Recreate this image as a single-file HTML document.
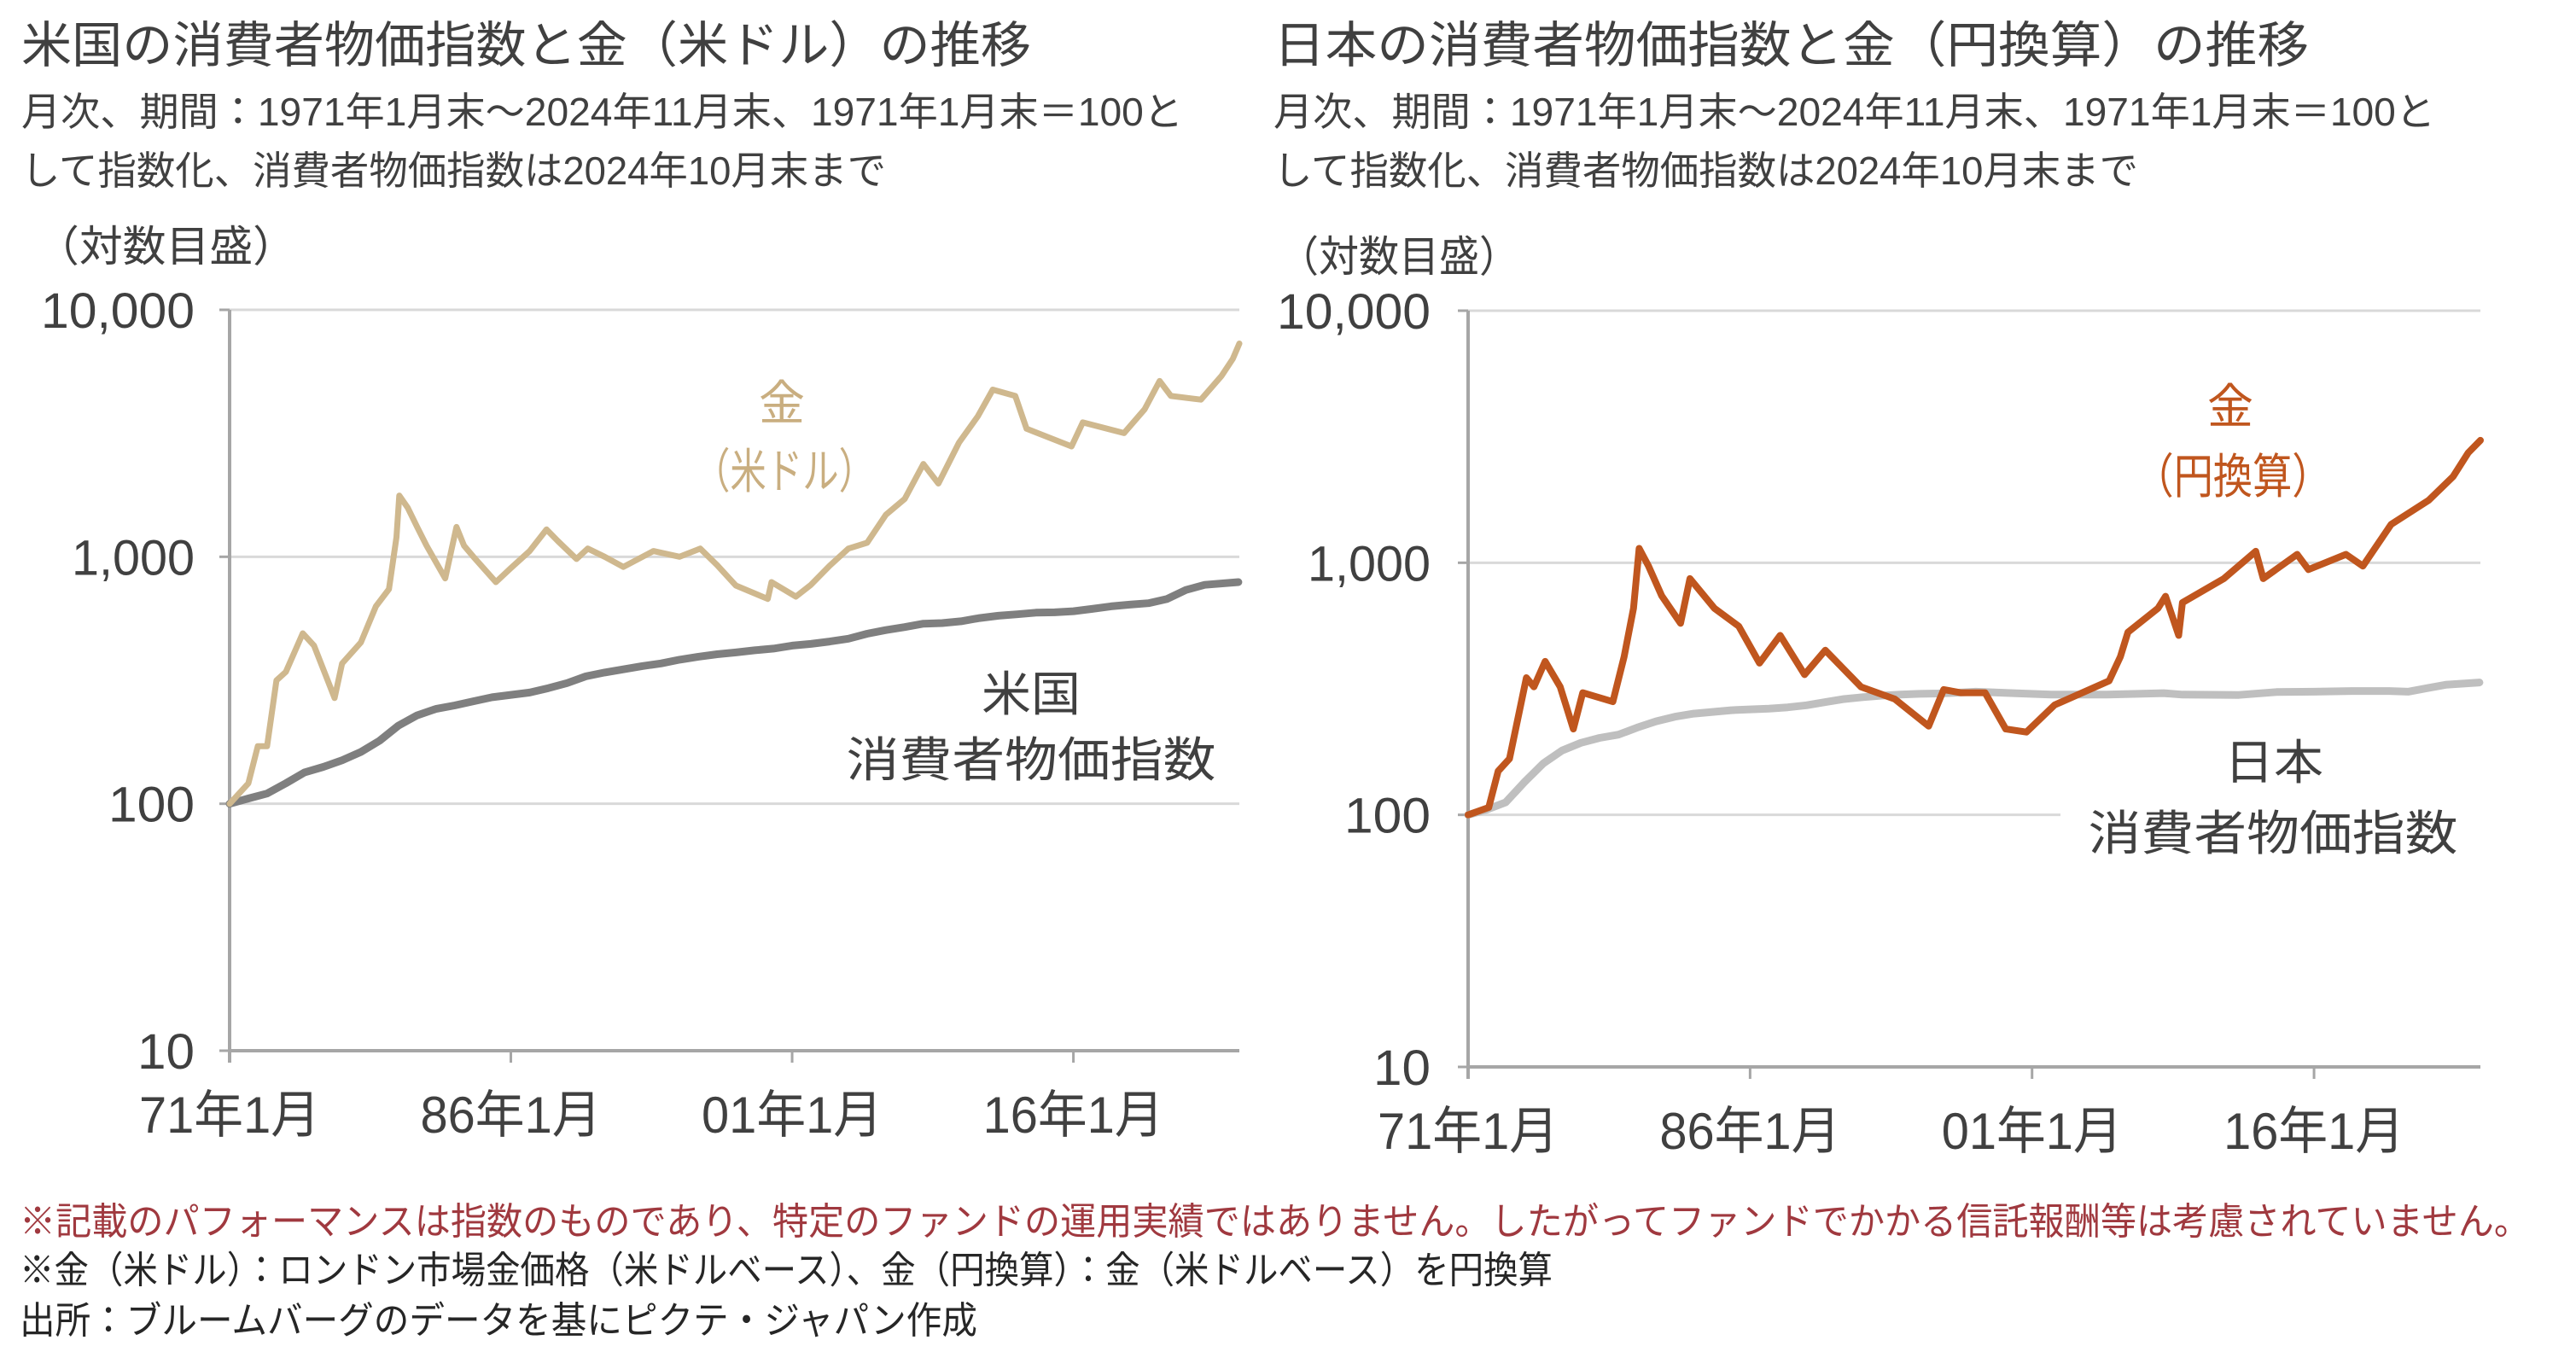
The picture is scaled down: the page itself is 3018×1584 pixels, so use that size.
<!DOCTYPE html>
<html><head><meta charset="utf-8">
<style>
html,body{margin:0;padding:0;background:#fff;}
svg{display:block;font-family:"Liberation Sans","Noto Sans CJK JP",sans-serif;}
</style></head>
<body>
<svg id="root" width="3018" height="1584" viewBox="0 0 3018 1584" xmlns="http://www.w3.org/2000/svg">
<rect width="3018" height="1584" fill="#fff"/>
<g fill="#404040">
<text x="25" y="73" font-size="58" textLength="1183" lengthAdjust="spacingAndGlyphs">米国の消費者物価指数と金（米ドル）の推移</text>
<text x="25" y="147" font-size="46" textLength="1361" lengthAdjust="spacingAndGlyphs">月次、期間：1971年1月末～2024年11月末、1971年1月末＝100と</text>
<text x="25" y="216" font-size="46" textLength="1013" lengthAdjust="spacingAndGlyphs">して指数化、消費者物価指数は2024年10月末まで</text>
<text x="1492" y="73" font-size="58" textLength="1213" lengthAdjust="spacingAndGlyphs">日本の消費者物価指数と金（円換算）の推移</text>
<text x="1492" y="147" font-size="46" textLength="1361" lengthAdjust="spacingAndGlyphs">月次、期間：1971年1月末～2024年11月末、1971年1月末＝100と</text>
<text x="1492" y="216" font-size="46" textLength="1013" lengthAdjust="spacingAndGlyphs">して指数化、消費者物価指数は2024年10月末まで</text>
<text x="42" y="306" font-size="50" textLength="305" lengthAdjust="spacingAndGlyphs">（対数目盛）</text>
<text x="1498" y="318" font-size="50" textLength="282" lengthAdjust="spacingAndGlyphs">（対数目盛）</text>
</g>
<g id="left"></g>
<g id="right"></g>
<text x="23" y="1446" font-size="44" fill="#a0393f" textLength="2941" lengthAdjust="spacingAndGlyphs">※記載のパフォーマンスは指数のものであり、特定のファンドの運用実績ではありません。したがってファンドでかかる信託報酬等は考慮されていません。</text>
<text x="23" y="1503" font-size="44" fill="#262626" textLength="1796" lengthAdjust="spacingAndGlyphs">※金（米ドル）：ロンドン市場金価格（米ドルベース）、金（円換算）：金（米ドルベース）を円換算</text>
<text x="23" y="1562" font-size="44" fill="#262626" textLength="1122" lengthAdjust="spacingAndGlyphs">出所：ブルームバーグのデータを基にピクテ・ジャパン作成</text>
</svg>
<script>
const yTicks = [10, 100, 1000, 10000];
const yTickLabels = ["10", "100", "1,000", "10,000"];
const xTickYears = [1971, 1986, 2001, 2016];
const xTickLabels = ["71年1月", "86年1月", "01年1月", "16年1月"];

const usGoldDates = [1971,1972,1972.5,1973,1973.5,1974,1974.9,1975.5,1976.6,1977,1978,1978.8,1979.5,1979.9,1980.05,1980.5,1981,1981.5,1982.5,1983.1,1983.5,1984,1985.2,1986,1987,1987.9,1988.5,1989.5,1990.1,1991,1992,1993.6,1995,1996.1,1997,1998,1999.7,1999.9,2001.2,2002,2003,2004,2005,2006,2007,2008,2008.8,2009.9,2010.9,2011.7,2012.9,2013.5,2015.9,2016.5,2018.7,2019.8,2020.6,2021.2,2022.8,2023.9,2024.5,2024.85];
const usGoldValues = [100,121,171,171,316,342,490,437,268,370,450,630,740,1200,1770,1580,1320,1110,818,1320,1110,1000,790,900,1055,1290,1160,980,1080,1000,910,1055,1000,1080,925,765,675,790,690,770,920,1080,1140,1480,1715,2375,1980,2900,3700,4750,4480,3300,2800,3500,3170,3960,5150,4480,4330,5400,6330,7300];

const usCpiDates = [1971,1972,1973,1974,1975,1976,1977,1978,1979,1980,1981,1982,1983,1984,1985,1987,1988,1989,1990,1991,1992,1993,1994,1995,1996,1997,1998,1999,2000,2001,2002,2003,2004,2005,2006,2007,2008,2009,2010,2011,2012,2013,2014,2015,2016,2017,2018,2019,2020,2021,2022,2023,2024.8];
const usCpiValues = [100,105,110,121,134,141,150,162,180,207,228,242,250,260,270,282,294,308,328,340,350,361,370,383,394,403,410,418,425,437,444,454,466,488,505,519,536,539,548,565,577,585,594,596,602,615,630,640,649,675,734,770,790];

const jpGoldDates = [1971,1972.1,1972.6,1973.2,1974.1,1974.5,1975.1,1975.9,1976.6,1977.1,1978.7,1979.3,1979.8,1980.1,1980.6,1981.3,1982.3,1982.8,1984.1,1985.4,1986.5,1987.6,1988.9,1990,1991.9,1993.7,1995.5,1996.3,1997.2,1998.5,1999.6,2000.7,2002.2,2005.1,2005.7,2006.1,2007.7,2008.1,2008.8,2009,2011.2,2012.9,2013.3,2015.1,2015.7,2017.7,2018.6,2020.1,2022.1,2023.4,2024.2,2024.85];
const jpGoldValues = [100,107,149,167,350,322,406,322,219,305,281,424,660,1140,970,740,575,865,660,560,400,515,360,450,322,288,225,314,305,305,219,213,273,340,424,530,660,736,515,695,865,1110,865,1080,940,1080,970,1420,1770,2200,2730,3060];

const jpCpiDates = [1971,1972,1973,1974,1975,1976,1977,1978,1979,1980,1981,1982,1983,1984,1985,1986,1987,1988,1989,1990,1991,1992,1993,1994,1995,1996,1997,1998,1999,2000,2002,2005,2008,2009,2012,2014,2016,2018,2020,2021,2022,2023,2024.8];
const jpCpiValues = [100,105,112,135,160,180,193,202,208,222,235,245,252,256,260,262,264,267,272,280,288,293,297,300,302,303,305,308,306,304,300,300,304,300,299,307,308,310,310,308,318,328,335];

const NS = "http://www.w3.org/2000/svg";
function mk(tag, attrs, parent){
  const e = document.createElementNS(NS, tag);
  for (const k in attrs) e.setAttribute(k, attrs[k]);
  parent.appendChild(e);
  return e;
}

function drawChart(g, cfg){
  const xScale = yr => cfg.x0 + (yr - 1971) * (cfg.x1 - cfg.x0) / (2024.85 - 1971);
  const yScale = v => cfg.y10 - (Math.log10(v) - 1) * (cfg.y10 - cfg.y10k) / 3;
  yTicks.forEach((t, i) => {
    const y = yScale(t);
    if (i > 0) {
      const gl = mk("line", {x1: cfg.x0, x2: (t === 100 && cfg.cut100) ? cfg.cut100 : cfg.x1, y1: y, y2: y, stroke: "#d9d9d9", "stroke-width": 3}, g);
      
      
    }
    const tk = mk("line", {x1: cfg.x0 - 12, x2: cfg.x0, y1: y, y2: y, stroke: "#a6a6a6", "stroke-width": 3}, g);
    
    
    const lb = mk("text", {x: cfg.labelRight, y: y + 21, "font-size": 58, fill: "#404040", "text-anchor": "end", textLength: [67, 101, 144, 180][i], lengthAdjust: "spacingAndGlyphs"}, g);
    lb.textContent = yTickLabels[i];
    
    
  });
  const xa = mk("line", {x1: cfg.x0, x2: cfg.x1, y1: cfg.y10, y2: cfg.y10, stroke: "#a6a6a6", "stroke-width": 4}, g);
  
  
  const ya = mk("line", {x1: cfg.x0, x2: cfg.x0, y1: cfg.y10k, y2: cfg.y10 + 14, stroke: "#a6a6a6", "stroke-width": 4}, g);
  
  
  xTickYears.forEach((yr, i) => {
    const x = xScale(yr);
    const t = mk("line", {x1: x, x2: x, y1: cfg.y10, y2: cfg.y10 + 14, stroke: "#a6a6a6", "stroke-width": 3}, g);
    
    
    const l = mk("text", {x: x, y: cfg.y10 + 96, "font-size": 60, fill: "#404040", "text-anchor": "middle", textLength: 212, lengthAdjust: "spacingAndGlyphs"}, g);
    l.textContent = xTickLabels[i];
    
    
  });
  cfg.series.forEach(s => {
    const pts = s.dates.map((d, i) => xScale(d).toFixed(1) + "," + yScale(s.values[i]).toFixed(1)).join(" ");
    const p = mk("polyline", {points: pts, fill: "none", stroke: s.color, "stroke-width": s.w, "stroke-linejoin": "round", "stroke-linecap": "round"}, g);
    
    
  });
  cfg.labels.forEach(l => {
    const t = mk("text", {x: l.x, y: l.y, "font-size": 56, fill: l.color, "text-anchor": "middle", textLength: l.len, lengthAdjust: "spacingAndGlyphs"}, g);
    t.textContent = l.text;
    
    
  });
}

drawChart(document.getElementById("left"), {
  x0: 269, x1: 1452, y10k: 363, y10: 1231, labelRight: 228,
  series: [
    {name: "us-cpi-line", dates: usCpiDates, values: usCpiValues, color: "#7f7f7f", w: 9},
    {name: "gold-usd-line", dates: usGoldDates, values: usGoldValues, color: "#cfb88e", w: 7}
  ],
  labels: [
    {name: "gold-usd-label", text: "金", x: 916, y: 492, color: "#c9ae80", len: 54},
    {name: "gold-usd-label-sub", text: "（米ドル）", x: 919, y: 572, color: "#c9ae80", len: 212},
    {name: "us-cpi-label", text: "米国", x: 1208, y: 833, color: "#404040", len: 116},
    {name: "us-cpi-label-sub", text: "消費者物価指数", x: 1208, y: 910, color: "#404040", len: 433}
  ]
});
drawChart(document.getElementById("right"), {
  x0: 1720, x1: 2906, y10k: 364, y10: 1250, labelRight: 1676, cut100: 2414,
  series: [
    {name: "japan-cpi-line", dates: jpCpiDates, values: jpCpiValues, color: "#bfbfbf", w: 9},
    {name: "gold-jpy-line", dates: jpGoldDates, values: jpGoldValues, color: "#c0561e", w: 8}
  ],
  labels: [
    {name: "gold-jpy-label", text: "金", x: 2613, y: 496, color: "#c0561e", len: 54},
    {name: "gold-jpy-label-sub", text: "（円換算）", x: 2616, y: 578, color: "#c0561e", len: 231},
    {name: "japan-cpi-label", text: "日本", x: 2664, y: 913, color: "#404040", len: 116},
    {name: "japan-cpi-label-sub", text: "消費者物価指数", x: 2663, y: 996, color: "#404040", len: 433}
  ]
});
</script>
</body></html>
